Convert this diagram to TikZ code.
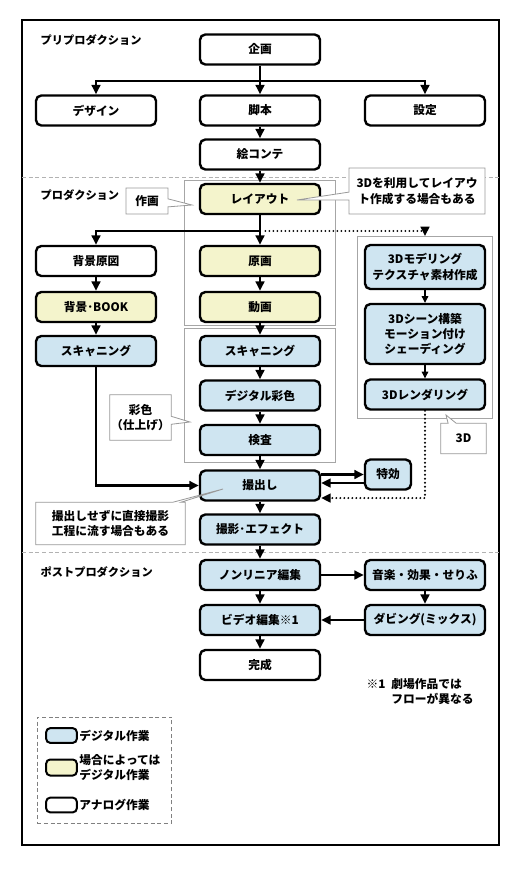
\documentclass[tikz,border=0pt]{standalone}
\usepackage{fontspec}
\setmainfont{Noto Sans CJK JP}
\usetikzlibrary{arrows.meta,shapes.callouts,fit}
\definecolor{digiblue}{RGB}{207,229,241}
\definecolor{maybeyellow}{RGB}{244,244,204}

\begin{document}
\begin{tikzpicture}[x=0.75pt,y=-0.75pt,font=\fontsize{8.8}{11.5}\selectfont\bfseries]
  % Define box, group, callout and arrow styles
  \tikzstyle{analog} = [draw, line width=1.8pt, rounded corners=4pt, fill=white,
  minimum width=90pt, minimum height=22.5pt, inner sep=1pt, align=center]
  \tikzstyle{digital} = [analog, fill=digiblue]
  \tikzstyle{maybe} = [analog, fill=maybeyellow]
  \tikzstyle{grp} = [draw=gray!70, line width=0.6pt]
  \tikzstyle{note} = [rectangle callout, draw=gray!80, line width=0.6pt, fill=white,
  align=center, callout pointer width=6pt, inner sep=1pt]
  \tikzstyle{stage} = [anchor=west, font=\fontsize{8.4}{10}\selectfont\bfseries]
  \tikzstyle{arr} = [line width=1.6pt, -{Triangle[length=7pt,width=6.5pt]}]
  \tikzstyle{thinarr} = [line width=0.8pt, -{Triangle[length=5pt,width=5pt]}]
  \tikzstyle{dotarr} = [line width=1.6pt, line cap=round, dash pattern=on 0pt off 3pt,
  -{Triangle[length=7pt,width=6.5pt]}]
  \tikzstyle{divider} = [draw=gray!60, densely dashed, line width=0.5pt]

  \useasboundingbox (0,0) rectangle (513,874);
  \draw[line width=1.5pt] (22,20) rectangle (499,845);
  \draw[divider] (22,177) -- (499,177);
  \draw[divider] (22,552) -- (499,552);

  \node[stage] at (36,40) {プリプロダクション};
  \node[stage] at (36,195) {プロダクション};
  \node[stage] at (36,572) {ポストプロダクション};

  % Preproduction
  \node[analog] (kikaku) at (260,49.5) {企画};
  \node[analog] (design) at (96,110.5) {デザイン};
  \node[analog] (kyakuhon) at (260,110.5) {脚本};
  \node[analog] (settei) at (425,110.5) {設定};
  \node[analog] (ekonte) at (260,154.5) {絵コンテ};

  % Production
  \node[maybe] (layout) at (260,199) {レイアウト};
  \node[analog] (bgdraft) at (96,261) {背景原図};
  \node[maybe] (genga) at (260,261) {原画};
  \node[maybe] (bgbook) at (96,307) {背景･BOOK};
  \node[maybe] (douga) at (260,307) {動画};
  \node[digital] (scanL) at (96,351) {スキャニング};
  \node[digital] (scanC) at (260,351) {スキャニング};
  \node[digital] (paint) at (260,395.5) {デジタル彩色};
  \node[digital] (check) at (260,440) {検査};
  \node[digital, minimum height=33pt] (model) at (425,267) {3Dモデリング\\テクスチャ素材作成};
  \node[digital, minimum height=45pt] (scene) at (425,334) {3Dシーン構築\\モーション付け\\シェーディング};
  \node[digital] (render) at (425,394.5) {3Dレンダリング};
  \node[digital] (satsu) at (260,485.5) {撮出し};
  \node[digital, minimum width=34.5pt] (tokko) at (388,474.5) {特効};
  \node[digital] (effect) at (260,529.5) {撮影･エフェクト};

  % Postproduction
  \node[digital] (nonlinear) at (260,575) {ノンリニア編集};
  \node[digital] (sound) at (425,575) {音楽・効果・せりふ};
  \node[digital] (video) at (260,620) {ビデオ編集※1};
  \node[digital] (dubbing) at (425,620) {ダビング(ミックス)};
  \node[analog] (kansei) at (260,665) {完成};
  \node[align=left, anchor=west] (footnote) at (362,691.5)
  {※1\enspace 劇場作品では\\\hphantom{※1\enspace }フローが異なる};

  % groups
  \node[grp, fit=(layout)(douga), inner xsep=11pt, inner ysep=2pt] (glayout) {};
  \node[grp, fit=(scanC)(check), inner xsep=11pt, inner ysep=5pt] (gcolor) {};
  \node[grp, fit=(model)(render), inner xsep=5pt, inner ysep=5.5pt] (g3d) {};

  % connectors
  \coordinate (br1) at (260,81);
  \draw[line width=1.6pt] (kikaku) -- (br1);
  \draw[arr] (br1) -| (design);
  \draw[arr] (br1) -| (settei);
  \draw[arr] (br1) -- (kyakuhon);
  \draw[arr] (kyakuhon) -- (ekonte);
  \draw[arr] (ekonte) -- (layout);
  \coordinate (br2) at (260,231);
  \draw[line width=1.6pt] (layout) -- (br2);
  \draw[arr] (br2) -| (bgdraft);
  \draw[arr] (br2) -- (genga);
  \draw[dotarr] ([xshift=4pt]br2) -| (g3d);
  \draw[arr] (bgdraft) -- (bgbook);
  \draw[arr] (bgbook) -- (scanL);
  \draw[arr] (scanL) |- (satsu);
  \draw[arr] (genga) -- (douga);
  \draw[arr] (douga) -- (scanC);
  \draw[arr] (scanC) -- (paint);
  \draw[arr] (paint) -- (check);
  \draw[arr] (check) -- (satsu);
  \draw[thinarr] (model) -- (scene);
  \draw[thinarr] (scene) -- (render);
  \draw[dotarr] (render) |- ([yshift=-9.4pt]satsu.east);
  \draw[arr] (satsu.east |- tokko.west) -- (tokko);
  \draw[arr] ([yshift=-6.4pt]tokko.west) -- ([yshift=-6.4pt]tokko.west -| satsu.east);
  \draw[arr] (satsu) -- (effect);
  \draw[arr] (effect) -- (nonlinear);
  \draw[arr] (nonlinear) -- (sound);
  \draw[arr] (sound) -- (dubbing);
  \draw[arr] (dubbing) -- (video);
  \draw[arr] (nonlinear) -- (video);
  \draw[arr] (video) -- (kansei);

  % callouts
  \coordinate (ptSakuga) at (192,205);
  \coordinate (ptLayout3d) at (297,200);
  \coordinate (ptColor) at (190,422);
  \coordinate (ptSkip) at (223,489);
  \coordinate (pt3d) at (446,415);
  \node[note, minimum width=31.5pt, minimum height=19.5pt,
  callout absolute pointer={(ptSakuga)}] (sakuga) at (147,201) {作画};
  \node[note, minimum width=102pt, minimum height=34.5pt,
  callout absolute pointer={(ptLayout3d)}] (note3dl) at (417,191)
  {3Dを利用してレイアウ\\ト作成する場合もある};
  \node[note, minimum width=44pt, minimum height=34pt,
  callout absolute pointer={(ptColor)}] (noteColor) at (140.5,417.5) {彩色\\（仕上げ）};
  \node[note, minimum width=112pt, minimum height=32pt,
  callout absolute pointer={(ptSkip)}] (noteSkip) at (110.5,523.5)
  {撮出しせずに直接撮影\\工程に流す場合もある};
  \node[note, minimum width=34pt, minimum height=23pt,
  callout absolute pointer={(pt3d)}] (note3d) at (463.5,438.5) {3D};

  % legend
  \node[draw=gray, densely dashed, line width=0.6pt, minimum width=101pt,
  minimum height=79.5pt] (legend) at (104.5,770) {};
  \node[digital, minimum width=23pt, minimum height=11pt, line width=1.5pt,
  rounded corners=3pt] (keyDigital) at (61.5,735.5) {};
  \node[maybe, minimum width=23pt, minimum height=12pt, line width=1.5pt,
  rounded corners=3pt] (keyMaybe) at (61.5,767.5) {};
  \node[analog, minimum width=23pt, minimum height=11pt, line width=1.5pt,
  rounded corners=3pt] (keyAnalog) at (61.5,805) {};
  \node[anchor=west, inner sep=1pt] at (keyDigital.east) {デジタル作業};
  \node[anchor=west, inner sep=1pt, align=left] at (keyMaybe.east) {場合によっては\\デジタル作業};
  \node[anchor=west, inner sep=1pt] at (keyAnalog.east) {アナログ作業};
\end{tikzpicture}
\end{document}
